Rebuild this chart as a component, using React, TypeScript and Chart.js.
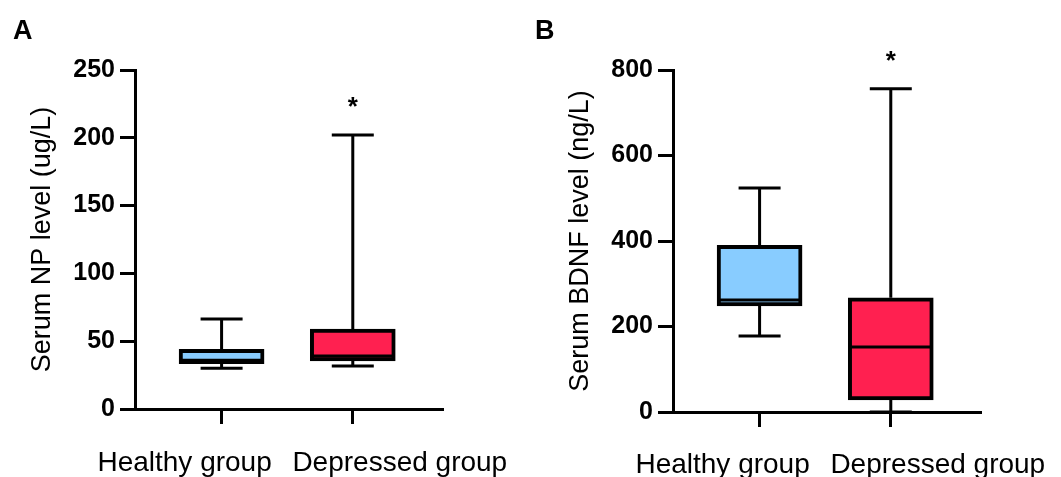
import React, { useEffect, useRef } from 'react';
import { Chart, registerables } from 'chart.js';

Chart.register(...registerables);

// ---------- data ----------
const groups = ['Healthy group', 'Depressed group'];
const groupPositions = [1, 2];
const boxColors = ['#88CCFF', '#FF2050'];

// Panel A: Serum NP level (ug/L)
const npMin = [30, 31.7];
const npQ1 = [33.5, 35.5];
const npMedian = [36, 39];
const npQ3 = [44, 59];
const npMax = [66.4, 202];
const npTicks = [0, 50, 100, 150, 200, 250];
const npSig = ['', '*'];

// Panel B: Serum BDNF level (ng/L)
const bdnfMin = [178, 0];
const bdnfQ1 = [248, 28];
const bdnfMedian = [262, 152];
const bdnfQ3 = [390, 267];
const bdnfMax = [524, 756];
const bdnfTicks = [0, 200, 400, 600, 800];
const bdnfSig = ['', '*'];

const FONT = "'Liberation Sans', Arial, sans-serif";

const boxDecor = {
  id: 'boxDecor',
  afterDatasetsDraw(chart: any, _args: any, opts: any) {
    const { ctx } = chart;
    const xs = chart.scales.x;
    const ys = chart.scales.y;
    const meta = chart.getDatasetMeta(0);
    ctx.save();
    ctx.strokeStyle = '#000';
    ctx.lineWidth = 3;
    ctx.lineCap = 'butt';
    const capHalf = 21;
    groupPositions.forEach((p: number, i: number) => {
      const x = xs.getPixelForValue(p);
      const yMin = ys.getPixelForValue(opts.min[i]);
      const yQ1 = ys.getPixelForValue(opts.q1[i]);
      const yQ3 = ys.getPixelForValue(opts.q3[i]);
      const yMax = ys.getPixelForValue(opts.max[i]);
      const yMed = ys.getPixelForValue(opts.med[i]);
      ctx.beginPath();
      ctx.moveTo(x, yQ3);
      ctx.lineTo(x, yMax);
      ctx.moveTo(x - capHalf, yMax);
      ctx.lineTo(x + capHalf, yMax);
      ctx.moveTo(x, yQ1);
      ctx.lineTo(x, yMin);
      ctx.moveTo(x - capHalf, yMin);
      ctx.lineTo(x + capHalf, yMin);
      ctx.stroke();
      const bar = meta.data[i];
      const half = bar.width / 2;
      ctx.beginPath();
      ctx.moveTo(x - half + 2, yMed);
      ctx.lineTo(x + half - 2, yMed);
      ctx.stroke();
      if (opts.sig[i]) {
        ctx.font = `bold 26px ${FONT}`;
        ctx.fillStyle = '#000';
        ctx.textAlign = 'center';
        ctx.textBaseline = 'alphabetic';
        const m = ctx.measureText(opts.sig[i]);
        const cy = yMax - 33;
        const base = cy + (m.actualBoundingBoxAscent - m.actualBoundingBoxDescent) / 2;
        ctx.fillText(opts.sig[i], x, base);
      }
      // category labels
      ctx.font = `28px ${FONT}`;
      ctx.fillStyle = '#000';
      ctx.textAlign = 'center';
      ctx.textBaseline = 'alphabetic';
      const offs = [-37, 47];
      ctx.fillText(groups[i], x + offs[i], opts.labelBaseline);
    });
    // panel letter
    ctx.font = `bold 27px ${FONT}`;
    ctx.textAlign = 'left';
    ctx.textBaseline = 'alphabetic';
    ctx.fillStyle = '#000';
    ctx.fillText(opts.letter, opts.letterX, 39);
    ctx.restore();
  },
};

function Panel(props: any) {
  const ref = useRef<HTMLCanvasElement>(null);
  useEffect(() => {
    const canvas = ref.current!;
    const chart = new Chart(canvas, {
      type: 'bar',
      data: {
        datasets: [
          {
            data: groupPositions.map((p, i) => ({ x: p, y: [props.q1[i], props.q3[i]] })) as any,
            backgroundColor: boxColors,
            borderColor: '#000',
            borderWidth: 4,
            borderSkipped: false,
            barThickness: 85,
          },
        ],
      },
      options: {
        responsive: false,
        animation: false,
        layout: { padding: { left: props.pad.left, right: props.pad.right, top: props.pad.top, bottom: 0 } },
        plugins: {
          legend: { display: false },
          tooltip: { enabled: false },
          boxDecor: {
            min: props.min,
            q1: props.q1,
            med: props.med,
            q3: props.q3,
            max: props.max,
            sig: props.sig,
            letter: props.letter,
            letterX: props.letterX,
            labelBaseline: props.labelBaseline,
          },
        } as any,
        scales: {
          x: {
            type: 'linear',
            min: 0.34,
            max: 2.68,
            offset: false,
            afterBuildTicks: (s: any) => {
              s.ticks = groupPositions.map((v) => ({ value: v }));
            },
            afterFit: (s: any) => {
              s.height = props.axisHeight;
            },
            ticks: { display: false },
            grid: {
              display: true,
              offset: false,
              drawOnChartArea: false,
              drawTicks: true,
              tickLength: 15,
              lineWidth: 3,
              color: '#000',
            },
            border: { display: true, color: '#000', width: 3 },
          },
          y: {
            type: 'linear',
            min: props.ticks[0],
            max: props.ticks[props.ticks.length - 1],
            afterBuildTicks: (s: any) => {
              s.ticks = props.ticks.map((v: number) => ({ value: v }));
            },
            afterFit: (s: any) => {
              s.width = props.axisWidth;
            },
            ticks: {
              color: '#000',
              padding: 5,
              font: { family: FONT, size: 25, weight: 'bold' },
            },
            grid: {
              display: true,
              drawOnChartArea: false,
              drawTicks: true,
              tickLength: 15,
              lineWidth: 3,
              color: '#000',
            },
            border: { display: true, color: '#000', width: 3 },
            title: {
              display: true,
              text: props.title,
              color: '#000',
              padding: 0,
              font: { family: FONT, size: 27, weight: 'normal' },
            },
          },
        },
      },
      plugins: [boxDecor],
    });
    return () => chart.destroy();
  }, []);
  return <canvas ref={ref} width={props.width} height={477} style={{ display: 'block' }} />;
}

export default function App() {
  return (
    <div style={{ position: 'absolute', left: 0, top: 0, width: 1061, height: 477, background: '#fff', display: 'flex' }}>
      <Panel
        letter="A"
        letterX={13}
        title="Serum NP level (ug/L)"
        min={npMin}
        q1={npQ1}
        med={npMedian}
        q3={npQ3}
        max={npMax}
        ticks={npTicks}
        sig={npSig}
        width={530}
        pad={{ left: 26, right: 88, top: 70 }}
        axisWidth={109}
        axisHeight={68}
        labelBaseline={471}
      />
      <Panel
        letter="B"
        letterX={5}
        title="Serum BDNF level (ng/L)"
        min={bdnfMin}
        q1={bdnfQ1}
        med={bdnfMedian}
        q3={bdnfQ3}
        max={bdnfMax}
        ticks={bdnfTicks}
        sig={bdnfSig}
        width={531}
        pad={{ left: 34, right: 81, top: 70 }}
        axisWidth={109}
        axisHeight={65}
        labelBaseline={473}
      />
    </div>
  );
}
